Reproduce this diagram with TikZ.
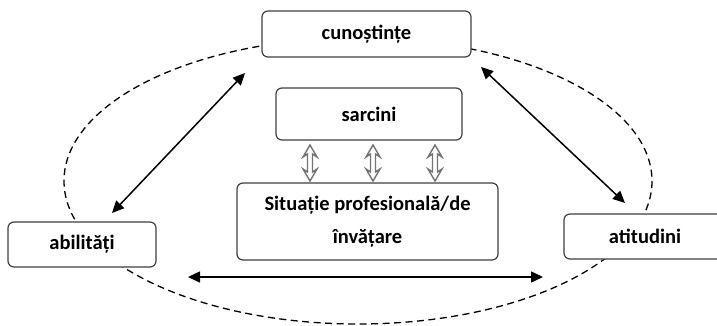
\documentclass[tikz,border=0pt]{standalone}
\usepackage{fontspec}
\setmainfont{Carlito}
\usetikzlibrary{arrows.meta}
\begin{document}
\begin{tikzpicture}[x=1pt,y=-1pt,
  box/.style={draw=black!75, line width=1.2pt, rounded corners=6pt, fill=white,
    inner sep=0pt, align=center, font=\fontsize{20.5}{33}\selectfont\bfseries},
  link/.style={line width=1.5pt, {Triangle[length=12pt,width=11pt]}-{Triangle[length=12pt,width=11pt]}},
  hollow/.style={draw=black!55, line width=1.4pt, line join=miter},
  ring/.style={dash pattern=on 7pt off 4.5pt, line width=1.3pt}
]
\clip (0,0) rectangle (717,326);
\useasboundingbox (0,0) rectangle (717,326);
\draw[ring] (358,181) ellipse [x radius=294, y radius=143];
\node[box, minimum width=209pt, minimum height=46pt] (cun) at (366.5,34) {cunoștințe};
\node[box, minimum width=186pt, minimum height=52pt] (sar) at (369,114) {sarcini};
\node[box, minimum width=261pt, minimum height=77pt] (sit) at (367.5,221.5) {Situație profesională/de\\învățare};
\node[box, minimum width=148pt, minimum height=45pt] (abi) at (82,244.5) {abilități};
\node[box, minimum width=162pt, minimum height=45pt] (ati) at (645,236.5) {atitudini};
\coordinate (l1) at (245,73);
\coordinate (l2) at (112,213);
\coordinate (r1) at (481,67);
\coordinate (r2) at (625,203);
\coordinate (h1) at (188,277);
\coordinate (h2) at (543,277);
\draw[link] (l1) -- (l2);
\draw[link] (r1) -- (r2);
\draw[link] (h1) -- (h2);
\foreach \xx in {310,373,435}{
  \draw[hollow] (\xx,145) -- ++(7,12) -- ++(-4.5,-3) -- ++(0,18) -- ++(4.5,-3) -- ++(-7,12)
     -- ++(-7,-12) -- ++(4.5,3) -- ++(0,-18) -- ++(-4.5,3) -- cycle;
}
\end{tikzpicture}
\end{document}
